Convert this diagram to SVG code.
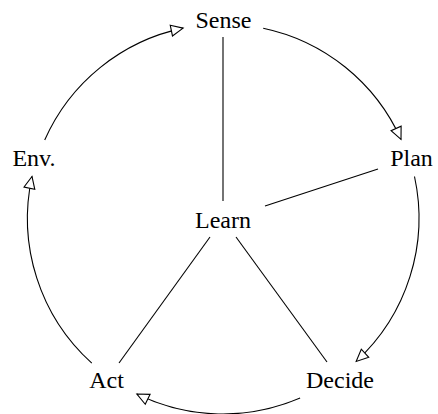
<svg xmlns="http://www.w3.org/2000/svg" width="438" height="414" viewBox="0 0 438 414">
  <style>
    text { font-family: 'Liberation Serif', 'Times New Roman', 'DejaVu Serif', serif; font-size: 24px; fill: #000; text-anchor: middle; }
    .link { stroke: #000; stroke-width: 1.1; fill: none; }
    .cycle { stroke: #000; stroke-width: 1.1; fill: none; marker-end: url(#open-tri); }
  </style>
  <defs>
    <marker id="open-tri" markerUnits="userSpaceOnUse" markerWidth="16" markerHeight="16" refX="13" refY="6.5" orient="auto" overflow="visible">
      <path d="M1,1 L13,6.5 L1,12 Z" fill="#fff" stroke="#000" stroke-width="1.1" stroke-linejoin="miter"/>
    </marker>
  </defs>

  <rect x="0" y="0" width="438" height="414" fill="#fff"/>

  <!-- connectors: spokes to Learn, and the outer cycle -->
  <g id="connectors">
    <line class="link" x1="223" y1="37" x2="223" y2="201"/>
    <line class="link" x1="265" y1="206" x2="378" y2="169"/>
    <line class="link" x1="236" y1="237" x2="327" y2="362"/>
    <line class="link" x1="210" y1="237" x2="119" y2="363"/>

    <path class="cycle" d="M44.7,140 A195,195 0 0 1 183.1,28.1"/>
    <path class="cycle" d="M263.2,28.2 A195,195 0 0 1 401,139.4"/>
    <path class="cycle" d="M414.5,176.5 A195,195 0 0 1 356.2,361.4"/>
    <path class="cycle" d="M300.1,398.1 A195,195 0 0 1 136.9,394"/>
    <path class="cycle" d="M91.8,363.2 A195,195 0 0 1 32,176.5"/>
  </g>

  <g id="sense"><text x="223.5" y="28" font-family="Liberation Serif, serif">Sense</text></g>
  <g id="plan"><text x="411.5" y="166" font-family="Liberation Serif, serif">Plan</text></g>
  <g id="decide"><text x="340" y="388" font-family="Liberation Serif, serif">Decide</text></g>
  <g id="act"><text x="106.5" y="388" font-family="Liberation Serif, serif">Act</text></g>
  <g id="env"><text x="34" y="166" font-family="Liberation Serif, serif">Env.</text></g>
  <g id="learn"><text x="223" y="228" font-family="Liberation Serif, serif">Learn</text></g>
</svg>
